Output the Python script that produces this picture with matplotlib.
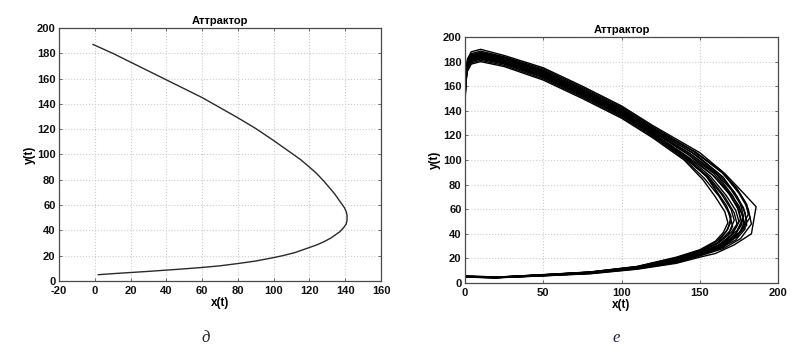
import matplotlib
matplotlib.use('Agg')
import matplotlib.pyplot as plt

plt.rcParams['font.family'] = ['Liberation Sans', 'DejaVu Sans']
plt.rcParams['axes.unicode_minus'] = False

# --- left panel (д): single trajectory ---
left_x = [-1, 10, 20, 30, 40, 50, 60, 70, 80, 90, 100, 105, 110, 115, 120, 124, 128, 131, 134, 136,
          138, 139.5, 140.5, 141, 141, 140.5, 139, 137, 135, 132, 128, 124, 118, 112, 105, 100, 90,
          80, 70, 60, 50, 40, 30, 20, 10, 2]
left_y = [187, 180, 173, 166, 159, 152, 145, 137, 129, 120.5, 111, 106, 101, 96, 90, 85, 79, 74, 69, 65,
          61, 58, 55, 52, 48, 45, 42, 39, 37, 34, 31, 28.5, 25.5, 22.5, 20, 18.5, 15.8,
          13.8, 12, 10.7, 9.6, 8.6, 7.6, 6.7, 5.8, 5]

# --- right panel (е): loops of the attractor ---
loop_01 = [(0, 6), (20, 4.8), (50, 6.8), (80, 9), (110, 13.5), (135, 21), (150, 27), (160, 34),
           (165, 41), (168, 49), (166, 58), (160, 70), (152, 84), (140, 100), (120, 118), (100, 134),
           (75, 150), (50, 165), (25, 176), (10, 180), (4, 178), (1.5, 172), (0.5, 162), (0, 145), (0, 5)]
loop_02 = [(0, 5.5), (20, 4.7), (50, 6.7), (80, 8.9), (110, 13.3), (135, 20.5), (150, 26.5), (161, 34),
           (167, 42), (170, 50), (168, 59), (162, 71), (153, 85), (140, 101), (120, 119), (100, 135),
           (75, 151), (50, 166), (25, 177), (10, 181), (4, 179), (1.5, 173), (0.5, 163), (0, 146), (0, 5)]
loop_03 = [(0, 5.3), (20, 4.6), (50, 6.6), (80, 8.7), (110, 13), (135, 20), (150, 26), (162, 33),
           (169, 42), (172, 51), (170, 60), (164, 72), (155, 86), (140, 102), (120, 120), (100, 136),
           (75, 152), (50, 167), (25, 178), (10, 182), (4, 180), (1.5, 174), (0.5, 164), (0, 147), (0, 5)]
loop_04 = [(0, 5.2), (20, 4.6), (50, 6.5), (80, 8.6), (110, 12.8), (135, 19.5), (150, 25), (162, 31),
           (170, 39), (174, 47), (172, 57), (166, 70), (156, 86), (140, 103), (120, 121), (100, 137),
           (75, 153), (50, 168), (25, 179), (10, 183), (4, 181), (1.5, 175), (0.5, 165), (0, 148), (0, 5)]
loop_05 = [(0, 5.1), (20, 4.5), (50, 6.4), (80, 8.5), (110, 12.6), (135, 19), (150, 24.5), (163, 31),
           (171, 40), (176, 52), (174, 62), (168, 74), (158, 88), (142, 103), (120, 122), (100, 138),
           (75, 154), (50, 169), (25, 180), (10, 184), (4, 182), (1.5, 176), (0.5, 166), (0, 149), (0, 5)]
loop_06 = [(0, 5), (20, 4.5), (50, 6.3), (80, 8.3), (110, 12.4), (135, 18.5), (150, 24), (163, 30),
           (172, 38), (177, 48), (175, 59), (169, 72), (159, 87), (143, 104), (120, 123), (100, 139),
           (75, 155), (50, 170), (25, 181), (10, 185), (4, 183), (1.5, 177), (0.5, 167), (0, 150), (0, 5)]
loop_07 = [(0, 5), (20, 4.4), (50, 6.2), (80, 8.2), (110, 12.2), (135, 18), (150, 23.5), (164, 30),
           (173, 40), (178, 54), (176, 64), (170, 76), (160, 90), (144, 105), (120, 124), (100, 140),
           (75, 156), (50, 171), (25, 182), (10, 186), (4, 184), (1.5, 178), (0.5, 168), (0, 151), (0, 5)]
loop_08 = [(0, 4.9), (20, 4.4), (50, 6.1), (80, 8), (110, 12), (135, 17.5), (150, 23), (164, 29),
           (174, 38), (180, 50), (178, 61), (172, 74), (162, 89), (145, 106), (120, 125), (100, 141),
           (75, 157), (50, 172), (25, 183), (10, 187), (4, 185), (1.5, 179), (0.5, 169), (0, 152), (0, 5)]
loop_09 = [(0, 4.9), (20, 4.3), (50, 6), (80, 7.9), (110, 11.8), (135, 17), (150, 22.5), (165, 29),
           (175, 40), (181, 56), (179, 66), (173, 78), (163, 92), (146, 107), (120, 126), (100, 142),
           (75, 158), (50, 173), (25, 183.5), (10, 187.5), (4, 185.5), (1.5, 179.5), (0.5, 170), (0, 153), (0, 5)]
loop_10 = [(0, 4.8), (20, 4.3), (50, 5.9), (80, 7.7), (110, 11.5), (135, 16.5), (150, 22), (165, 28),
           (176, 36), (183, 48), (181, 60), (175, 73), (165, 89), (148, 106), (120, 127), (100, 143),
           (75, 159), (50, 174), (25, 184), (10, 188.5), (4, 186.5), (1.5, 180), (0.5, 171), (0, 154), (0, 5)]
loop_11 = [(0, 4.8), (20, 4.2), (50, 5.8), (80, 7.5), (110, 11.2), (135, 16), (150, 21), (160, 24),
           (172, 31), (183, 40), (186, 62), (178, 73), (166, 89), (150, 106), (120, 128), (100, 144),
           (75, 160), (50, 175), (25, 185), (10, 190), (4, 188), (1.5, 182), (0.5, 173), (0, 156), (0, 5)]
loop_12 = [(0, 5.4), (20, 4.6), (50, 6.6), (80, 8.8), (110, 13.2), (135, 20), (150, 26), (162, 33),
           (168, 39), (171, 46), (169, 56), (163, 70), (155, 86), (141, 103), (120, 122), (100, 138),
           (75, 154), (50, 169), (25, 180), (10, 184), (4, 182), (1.5, 176), (0.5, 166), (0, 149), (0, 5)]
loop_13 = [(0, 5.1), (20, 4.5), (50, 6.3), (80, 8.4), (110, 12.3), (135, 18.2), (150, 23.5), (163, 28.5),
           (173, 35), (179, 44), (177, 56), (171, 71), (161, 88), (144, 105), (120, 123), (100, 139),
           (75, 155), (50, 170), (25, 181), (10, 185), (4, 183), (1.5, 177), (0.5, 167), (0, 150), (0, 5)]
loop_14 = [(0, 5.2), (20, 4.6), (50, 6.5), (80, 8.6), (110, 12.9), (135, 19.2), (150, 25.5), (161, 32),
           (168, 44), (170, 54), (167, 63), (161, 74), (154, 87), (141, 102), (120, 120.5), (100, 136.5),
           (75, 152.5), (50, 167.5), (25, 178.5), (10, 182.5), (4, 180.5), (1.5, 174.5), (0.5, 164.5), (0, 148), (0, 5)]
loop_15 = [(0, 5), (20, 4.5), (50, 6.2), (80, 8.3), (110, 12.1), (135, 17.8), (150, 23), (164, 31),
           (174, 43), (178, 52), (175, 63), (168, 75), (159, 89), (143, 104.5), (120, 123.5), (100, 139.5),
           (75, 155.5), (50, 170.5), (25, 181.5), (10, 185.5), (4, 183.5), (1.5, 177.5), (0.5, 167.5), (0, 151), (0, 5)]
loop_16 = [(0, 4.9), (20, 4.4), (50, 6.1), (80, 8.1), (110, 11.9), (135, 17.2), (150, 22.8), (165, 30.5),
           (176, 42), (182, 53), (180, 64), (174, 76), (164, 90), (147, 106.5), (120, 125.5), (100, 141.5),
           (75, 157.5), (50, 172.5), (25, 183), (10, 187), (4, 185), (1.5, 179), (0.5, 169.5), (0, 152.5), (0, 5)]
loop_17 = [(0, 5.3), (20, 4.7), (50, 6.7), (80, 8.8), (110, 13.1), (135, 19.8), (150, 25.8), (162, 32.5),
           (170, 41), (175, 50), (173, 59), (167, 71), (157, 86.5), (142, 102.5), (120, 121.5), (100, 137.5),
           (75, 153.5), (50, 168.5), (25, 179.5), (10, 183.5), (4, 181.5), (1.5, 175.5), (0.5, 165.5), (0, 148.5), (0, 5)]
loop_18 = [(0, 4.9), (20, 4.4), (50, 6), (80, 8), (110, 12), (135, 17.8), (150, 23.2), (163, 29.5),
           (173, 37), (180, 47), (179, 57), (174, 70), (165, 86), (148, 104), (120, 124.5), (100, 140.5),
           (75, 156.5), (50, 171.5), (25, 182.5), (10, 186.5), (4, 184.5), (1.5, 178.5), (0.5, 168.5), (0, 151.5), (0, 5)]
loops = [loop_01, loop_02, loop_03, loop_04, loop_05, loop_06, loop_07, loop_08, loop_09,
         loop_10, loop_11, loop_12, loop_13, loop_14, loop_15, loop_16, loop_17, loop_18]

left_xticks = [-20, 0, 20, 40, 60, 80, 100, 120, 140, 160]
right_xticks = [0, 50, 100, 150, 200]
yticks = [0, 20, 40, 60, 80, 100, 120, 140, 160, 180, 200]

fig = plt.figure(figsize=(8.02, 3.57), dpi=100)
ax1 = fig.add_axes([0.0736, 0.2129, 0.4015, 0.7087])
ax2 = fig.add_axes([0.5798, 0.2073, 0.3903, 0.6890])


def style(ax, xlim, xticks):
    ax.set_xlim(*xlim)
    ax.set_ylim(0, 200)
    ax.set_xticks(xticks)
    ax.set_yticks(yticks)
    ax.grid(True, color='#cccccc', linestyle=':', linewidth=0.8)
    ax.set_axisbelow(True)
    for s in ax.spines.values():
        s.set_color('#4a4a4a')
        s.set_linewidth(0.9)
    ax.tick_params(direction='in', length=2.5, width=0.6, color='#555555',
                   top=True, right=True, labelsize=8, pad=2.5, labelcolor='#111111')
    ax.tick_params(axis='x', pad=3.5)
    for lab in ax.get_xticklabels() + ax.get_yticklabels():
        lab.set_fontweight('bold')
    ax.set_title('Аттрактор', fontsize=8, fontweight='bold', pad=3)
    ax.set_xlabel('x(t)', fontsize=8.5, fontweight='bold', labelpad=1)
    ax.set_ylabel('y(t)', fontsize=8.5, fontweight='bold', labelpad=1)


ax1.plot(left_x, left_y, color='#2a2a2a', linewidth=1.0)
style(ax1, (-20, 160), left_xticks)

for lp in loops:
    ax2.plot([p[0] for p in lp], [p[1] for p in lp], color='black', linewidth=1.0)
style(ax2, (0, 200), right_xticks)

fig.text(0.256, 0.042, 'д', fontsize=12, style='italic',
         family=['Liberation Serif', 'DejaVu Serif'], color='#1a2233', ha='center')
fig.text(0.768, 0.042, 'е', fontsize=12, style='italic',
         family=['Liberation Serif', 'DejaVu Serif'], color='#1a2233', ha='center')

fig.savefig('out.png', dpi=100)
